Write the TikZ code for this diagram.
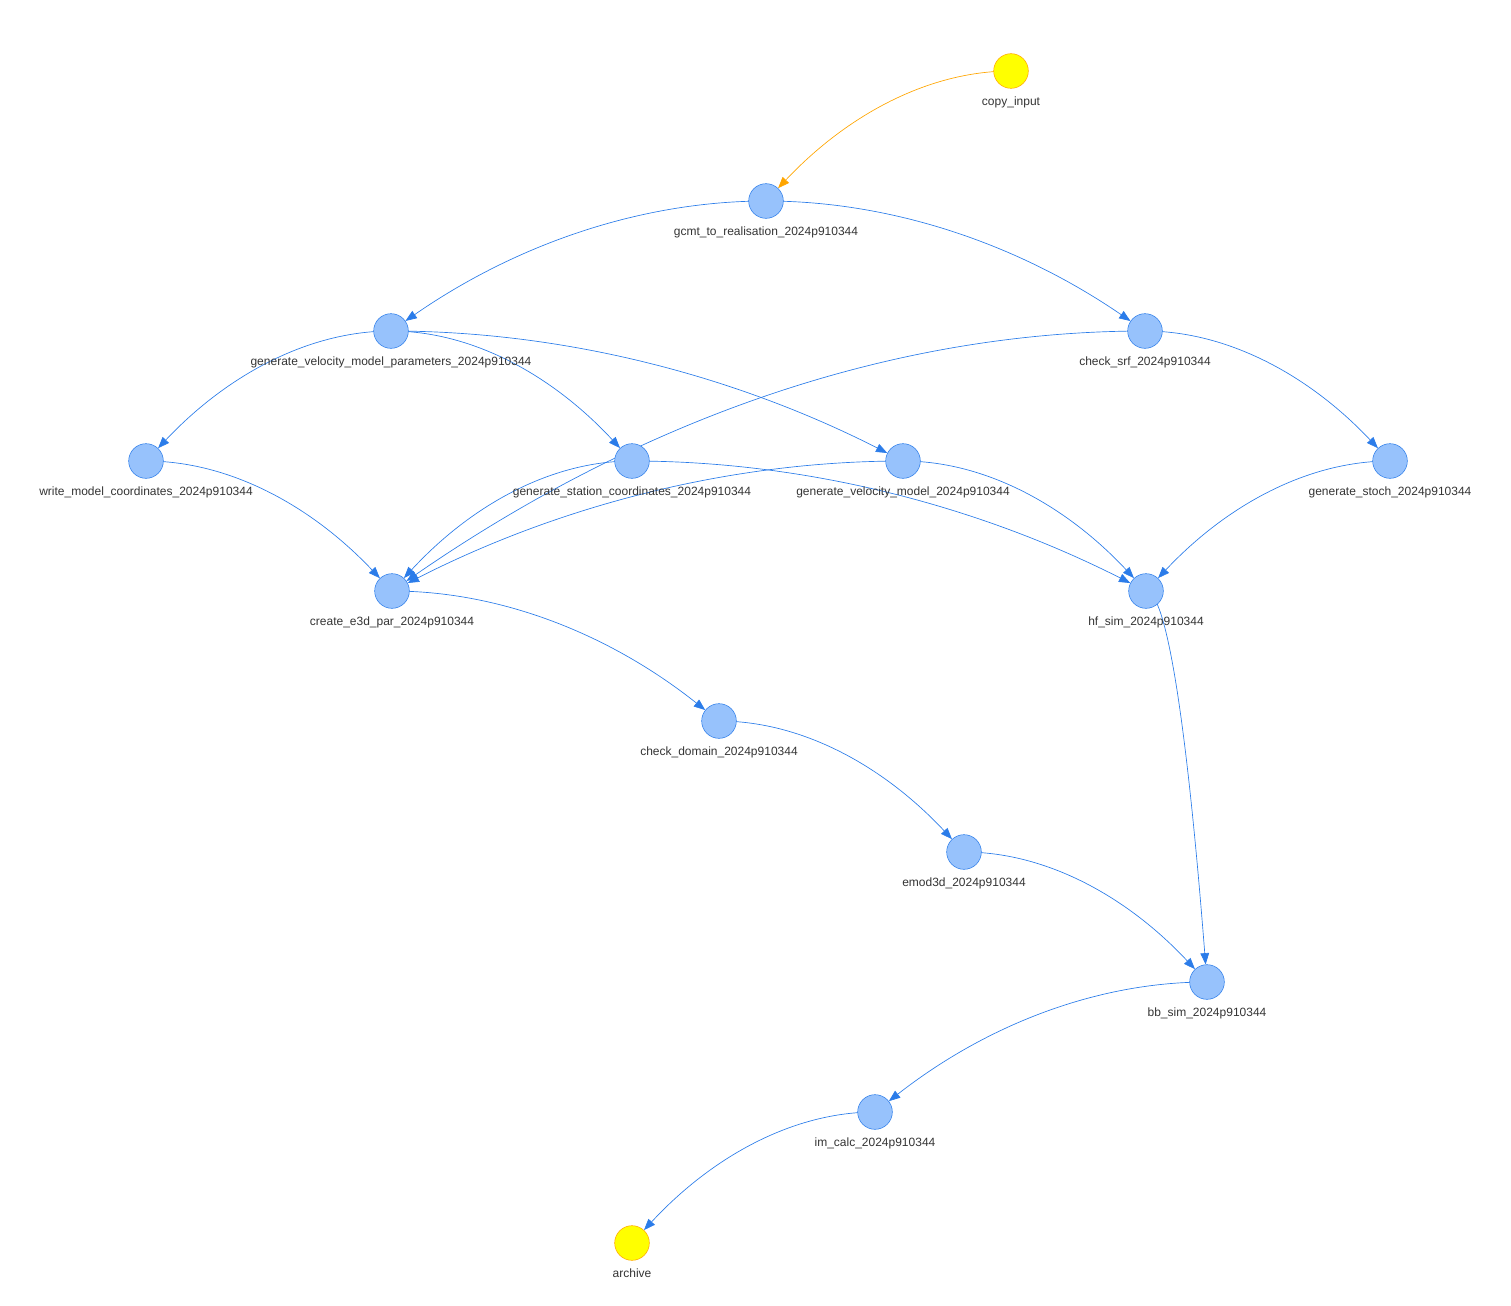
\documentclass[tikz,border=0pt]{standalone}
\usepackage{fontspec}
\setmainfont{Liberation Sans}
\usetikzlibrary{arrows.meta,calc,backgrounds}
\definecolor{nodefill}{HTML}{97C2FC}
\definecolor{nodeline}{HTML}{2B7CE9}
\definecolor{endfill}{HTML}{FFFF00}
\definecolor{endline}{HTML}{FFA500}
\definecolor{labeltext}{HTML}{343434}

\tikzset{
         task/.style = {circle, draw=nodeline, fill=nodefill, minimum size=26pt, inner sep=0pt},
          ends/.style = {circle, draw=endline, fill=endfill, minimum size=26pt, inner sep=0pt},
          lbl/.style = {font=\fontsize{9}{11}\selectfont, text=labeltext, inner sep=1pt},
         flow/.style = {draw=nodeline, line width=0.5pt, -{Triangle[length=8.5pt,width=6.5pt]},
                        to path={let \p1=(\tikztostart), \p2=(\tikztotarget) in
                          .. controls ({\x1+(\x2-\x1)/3},\y1) and ({\x1+2*(\x2-\x1)/3},{\y1+(\y2-\y1)/3})
                          .. (\tikztotarget) \tikztonodes}},
}

\begin{document}
\begin{tikzpicture}[
                  x = 0.75pt,
                  y = -0.75pt,
     label distance = 5pt,
                   ]
\useasboundingbox (0,0) rectangle (1511,1306);

% start and end of the workflow
\node[ends, label={[lbl]below:copy\_input}] (copy) at (1011,71) {};
\node[ends, label={[lbl]below:archive}]     (arch) at (632,1243) {};

% tasks
\node[task, label={[lbl]below:gcmt\_to\_realisation\_2024p910344}]               (gcmt)  at (766,201) {};
\node[task, label={[lbl]below:generate\_velocity\_model\_parameters\_2024p910344}] (gvmp)  at (391,331) {};
\node[task, label={[lbl]below:check\_srf\_2024p910344}]                           (srf)   at (1145,331) {};
\node[task, label={[lbl]below:write\_model\_coordinates\_2024p910344}]             (wmc)   at (146,461) {};
\node[task, label={[lbl]below:generate\_station\_coordinates\_2024p910344}]        (gsc)   at (632,461) {};
\node[task, label={[lbl]below:generate\_velocity\_model\_2024p910344}]             (gvm)   at (903,461) {};
\node[task, label={[lbl]below:generate\_stoch\_2024p910344}]                      (stoch) at (1390,461) {};
\node[task, label={[lbl]below:create\_e3d\_par\_2024p910344}]                     (e3d)   at (392,591) {};
\node[task, label={[lbl]below:hf\_sim\_2024p910344}]                              (hf)    at (1146,591) {};
\node[task, label={[lbl]below:check\_domain\_2024p910344}]                        (dom)   at (719,721) {};
\node[task, label={[lbl]below:emod3d\_2024p910344}]                               (emod)  at (964,852) {};
\node[task, label={[lbl]below:bb\_sim\_2024p910344}]                              (bb)    at (1207,982) {};
\node[task, label={[lbl]below:im\_calc\_2024p910344}]                             (im)    at (875,1112) {};

\begin{scope}[on background layer]
\draw[flow, draw=endline] (copy.center) to (gcmt);
\draw[flow] (gcmt.center)  to (gvmp);
\draw[flow] (gcmt.center)  to (srf);
\draw[flow] (gvmp.center)  to (wmc);
\draw[flow] (gvmp.center)  to (gsc);
\draw[flow] (gvmp.center)  to (gvm);
\draw[flow] (srf.center)   to (e3d);
\draw[flow] (srf.center)   to (stoch);
\draw[flow] (wmc.center)   to (e3d);
\draw[flow] (gsc.center)   to (e3d);
\draw[flow] (gsc.center)   to (hf);
\draw[flow] (gvm.center)   to (e3d);
\draw[flow] (gvm.center)   to (hf);
\draw[flow] (stoch.center) to (hf);
\draw[flow] (e3d.center)   to (dom);
\draw[flow] (hf.center)    to (bb);
\draw[flow] (dom.center)   to (emod);
\draw[flow] (emod.center)  to (bb);
\draw[flow] (bb.center)    to (im);
\draw[flow] (im.center)    to (arch);
\end{scope}
\end{tikzpicture}
\end{document}
